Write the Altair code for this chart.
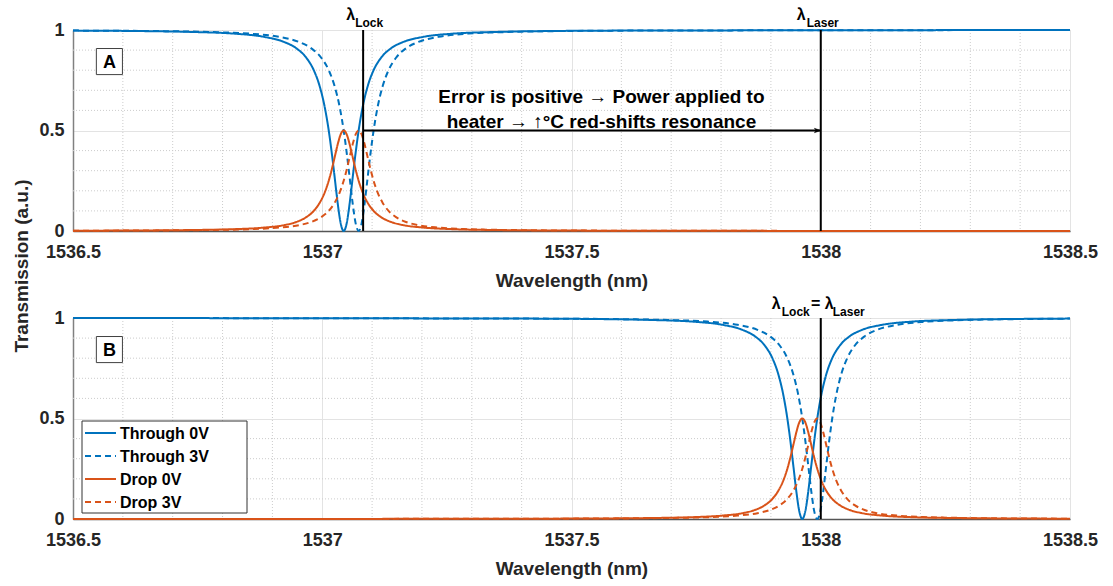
import altair as alt
import pandas as pd

BLUE = "#0072BD"
ORANGE = "#D95319"
SERIES = ["Through 0V", "Through 3V", "Drop 0V", "Drop 3V"]
SERIES_COLORS = [BLUE, BLUE, ORANGE, ORANGE]
SERIES_DASH = [[1, 0], [6, 4], [1, 0], [6, 4]]
FONT = "Liberation Sans"

# ---- data ----
wl_a_0v = [1536.5, 1536.623, 1536.743, 1536.823, 1536.883, 1536.923, 1536.948, 1536.968, 1536.983, 1536.995,
           1537.005, 1537.013, 1537.019, 1537.025, 1537.031, 1537.037, 1537.043, 1537.049, 1537.055, 1537.061,
           1537.067, 1537.073, 1537.081, 1537.091, 1537.103, 1537.118, 1537.138, 1537.163, 1537.203, 1537.263,
           1537.343, 1537.463, 1537.593, 1537.793, 1538.043, 1538.343, 1538.5]
wl_a_3v = [1536.5, 1536.653, 1536.773, 1536.853, 1536.913, 1536.953, 1536.978, 1536.998, 1537.013, 1537.025,
           1537.035, 1537.043, 1537.049, 1537.055, 1537.061, 1537.067, 1537.073, 1537.079, 1537.085, 1537.091,
           1537.097, 1537.103, 1537.111, 1537.121, 1537.133, 1537.148, 1537.168, 1537.193, 1537.233, 1537.293,
           1537.373, 1537.493, 1537.623, 1537.823, 1538.073, 1538.373, 1538.5]
through_a = [0.997, 0.995, 0.990, 0.982, 0.966, 0.941, 0.909, 0.862, 0.8, 0.719, 0.616, 0.5, 0.39, 0.265, 0.138,
             0.038, 0.0, 0.038, 0.138, 0.265, 0.39, 0.5, 0.616, 0.719, 0.8, 0.862, 0.909, 0.941, 0.966, 0.982,
             0.990, 0.995, 0.997, 0.998, 0.999, 0.9995, 0.9996]
drop_a = [0.0015, 0.0025, 0.005, 0.009, 0.017, 0.029, 0.045, 0.069, 0.1, 0.141, 0.192, 0.25, 0.305, 0.368, 0.431,
          0.481, 0.5, 0.481, 0.431, 0.368, 0.305, 0.25, 0.192, 0.141, 0.1, 0.069, 0.045, 0.029, 0.017, 0.009,
          0.005, 0.0025, 0.0015, 0.0008, 0.00045, 0.00027, 0.0002]

wl_b_0v = [1536.5, 1536.663, 1536.963, 1537.213, 1537.413, 1537.543, 1537.663, 1537.743, 1537.803, 1537.843,
           1537.868, 1537.888, 1537.903, 1537.915, 1537.925, 1537.933, 1537.939, 1537.945, 1537.951, 1537.957,
           1537.963, 1537.969, 1537.975, 1537.981, 1537.987, 1537.993, 1538.001, 1538.011, 1538.023, 1538.038,
           1538.058, 1538.083, 1538.123, 1538.183, 1538.263, 1538.383, 1538.5]
wl_b_3v = [1536.5, 1536.693, 1536.993, 1537.243, 1537.443, 1537.573, 1537.693, 1537.773, 1537.833, 1537.873,
           1537.898, 1537.918, 1537.933, 1537.945, 1537.955, 1537.963, 1537.969, 1537.975, 1537.981, 1537.987,
           1537.993, 1537.999, 1538.005, 1538.011, 1538.017, 1538.023, 1538.031, 1538.041, 1538.053, 1538.068,
           1538.088, 1538.113, 1538.153, 1538.213, 1538.293, 1538.413, 1538.5]
through_b = [0.9996, 0.9995, 0.999, 0.998, 0.997, 0.995, 0.990, 0.982, 0.966, 0.941, 0.909, 0.862, 0.8, 0.719,
             0.616, 0.5, 0.39, 0.265, 0.138, 0.038, 0.0, 0.038, 0.138, 0.265, 0.39, 0.5, 0.616, 0.719, 0.8,
             0.862, 0.909, 0.941, 0.966, 0.982, 0.990, 0.995, 0.997]
drop_b = [0.0002, 0.00027, 0.00045, 0.0008, 0.0015, 0.0025, 0.005, 0.009, 0.017, 0.029, 0.045, 0.069, 0.1,
          0.141, 0.192, 0.25, 0.305, 0.368, 0.431, 0.481, 0.5, 0.481, 0.431, 0.368, 0.305, 0.25, 0.192, 0.141,
          0.1, 0.069, 0.045, 0.029, 0.017, 0.009, 0.005, 0.0025, 0.0015]

x_ticks = [1536.5, 1537, 1537.5, 1538, 1538.5]
y_ticks = [0, 0.5, 1]
x_minor = [1536.6, 1536.7, 1536.8, 1536.9, 1537.1, 1537.2, 1537.3, 1537.4,
           1537.6, 1537.7, 1537.8, 1537.9, 1538.1, 1538.2, 1538.3, 1538.4]
y_minor = [0.1, 0.2, 0.3, 0.4, 0.6, 0.7, 0.8, 0.9]

lambda_lock_a = 1537.082
lambda_laser = 1538.0
lambda_lock_b = 1538.0
arrow_y = 0.5
note_text = "Error is positive \u2192 Power applied to\nheater \u2192 \u2191\u00b0C red-shifts resonance"
note_x = 1537.56
note_y = 0.667
tag_x = 1536.573
tag_y = 0.843

W, H = 997, 201

xscale = alt.Scale(domain=[1536.5, 1538.5], nice=False, zero=False)
yscale = alt.Scale(domain=[0, 1], nice=False, zero=False)
xaxis = alt.Axis(values=x_ticks, labelExpr="'' + datum.value", title="Wavelength (nm)",
                 grid=True, gridColor="#e3e3e3", gridWidth=1, ticks=False,
                 domainColor="#555555", domainWidth=1.5, labelPadding=12,
                 labelFont=FONT, labelFontWeight="bold", labelFontSize=18, labelColor="#262626",
                 labelOverlap=False, labelFlush=False,
                 titleFont=FONT, titleFontWeight="bold", titleFontSize=19, titleColor="#262626",
                 titlePadding=10)
yaxis = alt.Axis(values=y_ticks, labelExpr="'' + datum.value", title=None,
                 grid=True, gridColor="#e3e3e3", gridWidth=1, ticks=False,
                 domainColor="#808080", domainWidth=1.5, labelPadding=9,
                 labelFont=FONT, labelFontWeight="bold", labelFontSize=18, labelColor="#262626",
                 labelOverlap=False, labelFlush=False)


def X(field, **kw):
    return alt.X(field, type="quantitative", scale=xscale, axis=xaxis, **kw)


def Y(field, **kw):
    return alt.Y(field, type="quantitative", scale=yscale, axis=yaxis, **kw)


def curve_df(wl0, wl3, t, d):
    rows = []
    for name, xs, ys in [("Through 0V", wl0, t), ("Through 3V", wl3, t),
                         ("Drop 0V", wl0, d), ("Drop 3V", wl3, d)]:
        for xv, yv in zip(xs, ys):
            rows.append({"wl": xv, "T": yv, "series": name})
    return pd.DataFrame(rows)


def grid_layers():
    gx = alt.Chart(pd.DataFrame({"wl": x_minor})).mark_rule(
        color="#cccccc", strokeWidth=1, strokeDash=[1, 2]).encode(x=X("wl"))
    gy = alt.Chart(pd.DataFrame({"T": y_minor})).mark_rule(
        color="#cccccc", strokeWidth=1, strokeDash=[1, 2]).encode(y=Y("T"))
    return [gx, gy]


def lines_layer(df):
    return alt.Chart(df).mark_line(strokeWidth=2, interpolate="monotone").encode(
        x=X("wl"), y=Y("T"),
        color=alt.Color("series:N", scale=alt.Scale(domain=SERIES, range=SERIES_COLORS), legend=None),
        strokeDash=alt.StrokeDash("series:N", scale=alt.Scale(domain=SERIES, range=SERIES_DASH), legend=None),
        detail="series:N",
    )


def vlines(xs):
    return alt.Chart(pd.DataFrame({"wl": xs, "y0": [0] * len(xs), "y1": [1] * len(xs)})).mark_rule(
        color="black", strokeWidth=2).encode(x=X("wl"), y=Y("y0"), y2="y1")


def label(xv, text, size, align, dx, ypix):
    return alt.Chart(pd.DataFrame({"wl": [xv], "txt": [text]})).mark_text(
        font=FONT, fontWeight="bold", fontSize=size, align=align, dx=dx, baseline="alphabetic",
        color="black").encode(x=X("wl"), y=alt.value(ypix), text="txt:N")


def tag(letter):
    d = pd.DataFrame({"wl": [tag_x], "T": [tag_y], "txt": [letter]})
    box = alt.Chart(d).mark_point(shape="square", size=680, filled=True, fill="white",
                                  stroke="#404040", strokeWidth=1, opacity=1).encode(x=X("wl"), y=Y("T"))
    txt = alt.Chart(d).mark_text(font=FONT, fontWeight="bold", fontSize=18, color="black",
                                 baseline="middle", dy=1).encode(x=X("wl"), y=Y("T"), text="txt:N")
    return [box, txt]


def legend_layers():
    box = alt.Chart(pd.DataFrame({"a": [0]})).mark_rect(
        fill="white", stroke="#333333", strokeWidth=1).encode(
        x=alt.value(9), x2=alt.value(174), y=alt.value(103), y2=alt.value(195))
    out = [box]
    for i, name in enumerate(SERIES):
        row_y = 115 + 23 * i
        d = pd.DataFrame({"txt": [name]})
        out.append(alt.Chart(d).mark_rule(color=SERIES_COLORS[i], strokeWidth=2,
                                          strokeDash=SERIES_DASH[i]).encode(
            x=alt.value(12), x2=alt.value(43), y=alt.value(row_y)))
        out.append(alt.Chart(d).mark_text(font=FONT, fontWeight="bold", fontSize=16, color="black",
                                          align="left", baseline="middle").encode(
            x=alt.value(47), y=alt.value(row_y + 1), text="txt:N"))
    return out


# ---------- Panel A ----------
df_a = curve_df(wl_a_0v, wl_a_3v, through_a, drop_a)
arrow_df = pd.DataFrame({"wl": [lambda_lock_a], "wl2": [lambda_laser], "T": [arrow_y]})
arrow_line = alt.Chart(arrow_df).mark_rule(color="black", strokeWidth=2).encode(
    x=X("wl"), x2="wl2", y=Y("T"))
arrow_head = alt.Chart(pd.DataFrame({"wl": [lambda_laser], "T": [arrow_y]})).mark_point(
    shape="M0,0 L-2,-0.7 L-1.5,0 L-2,0.7 Z", size=40, filled=True, fill="black", stroke="black",
    strokeWidth=0.5, opacity=1).encode(x=X("wl"), y=Y("T"))
note = alt.Chart(pd.DataFrame({"wl": [note_x], "T": [note_y], "txt": [note_text]})).mark_text(
    font=FONT, fontWeight="bold", fontSize=19, lineBreak="\n", lineHeight=25, align="center",
    baseline="middle", color="black").encode(x=X("wl"), y=Y("T"), text="txt:N")
ytitle = alt.Chart(pd.DataFrame({"txt": ["Transmission (a.u.)"]})).mark_text(
    font=FONT, fontWeight="bold", fontSize=19, angle=270, align="center", baseline="middle",
    color="#262626").encode(x=alt.value(-51), y=alt.value(236), text="txt:N")

panel_a = alt.layer(
    *grid_layers(),
    lines_layer(df_a),
    vlines([lambda_lock_a, lambda_laser]),
    arrow_line, arrow_head, note,
    *tag("A"),
    label(lambda_lock_a, "\u03bb", 16, "right", -8, -10),
    label(lambda_lock_a, "Lock", 12, "left", -8, -3),
    label(lambda_laser, "\u03bb", 16, "right", -15, -10),
    label(lambda_laser, "Laser", 12, "left", -14, -3),
    ytitle,
).properties(width=W, height=H)

# ---------- Panel B ----------
df_b = curve_df(wl_b_0v, wl_b_3v, through_b, drop_b)

panel_b = alt.layer(
    *grid_layers(),
    *legend_layers(),
    lines_layer(df_b),
    vlines([lambda_lock_b]),
    *tag("B"),
    label(lambda_lock_b, "\u03bb", 16, "right", -40, -9),
    label(lambda_lock_b, "Lock", 12, "left", -39, -2),
    label(lambda_lock_b, "=", 16, "center", -5, -9),
    label(lambda_lock_b, "\u03bb", 16, "left", 4, -9),
    label(lambda_lock_b, "Laser", 12, "left", 12, -2),
).properties(width=W, height=H)

chart = alt.vconcat(panel_a, panel_b, spacing=87, bounds="flush").properties(
    padding={"left": 12, "top": 6, "right": 9, "bottom": 5}
).configure_view(stroke="transparent").configure(font=FONT)

chart.save("out.html", embed_options={"renderer": "svg", "actions": False})
